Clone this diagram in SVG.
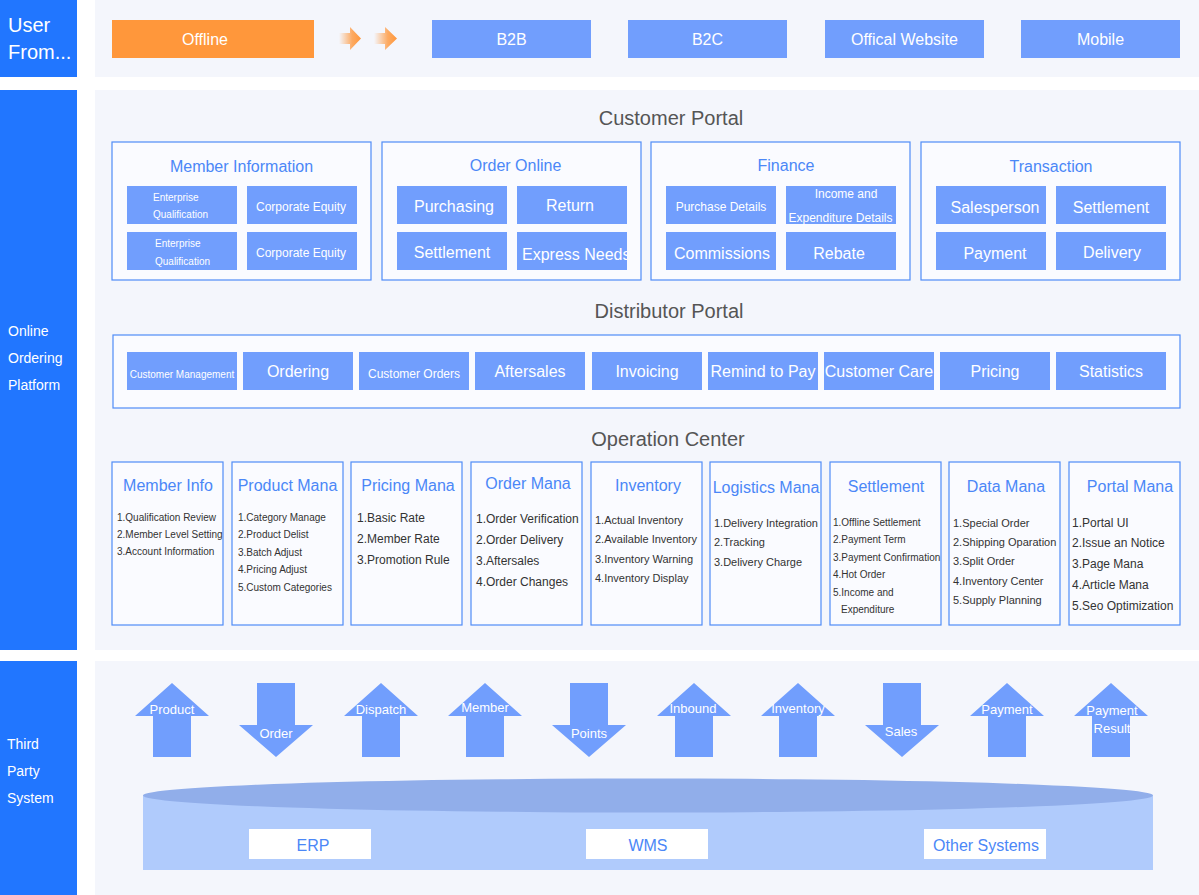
<svg xmlns="http://www.w3.org/2000/svg" xmlns:xlink="http://www.w3.org/1999/xlink" width="1199" height="895" viewBox="0 0 1199 895">
<style>
text{font-family:"Liberation Sans",Arial,sans-serif}
.bar{fill:#2176ff}
.panel{fill:#f4f6fc}
.lbl{fill:#fff;font-size:14px}
.sb{fill:#719efd}
.ob{fill:#fafbff;stroke:#4f8cf7;stroke-width:1.2}
.w16{fill:#fff;font-size:16px;text-anchor:middle}
.w16s{fill:#fff;font-size:16px;text-anchor:start}
.w12{fill:#fff;font-size:12px;text-anchor:middle}
.w10{fill:#fff;font-size:10px}
.sec{fill:#555;font-size:20px;text-anchor:middle}
.bt{fill:#4b87f7;font-size:16px;text-anchor:middle}
.li10{fill:#333;font-size:10px}
.li11{fill:#333;font-size:11px}
.li12{fill:#333;font-size:12px}
.arr{fill:#719efd}
.al{fill:#fff;font-size:13px;text-anchor:middle}
.sys{fill:#fff}
.st{fill:#4b87f7;font-size:16px;text-anchor:middle}
</style>
<defs>
<linearGradient id="chev" x1="0" y1="0" x2="1" y2="0">
<stop offset="0" stop-color="#ff973b" stop-opacity="0"/>
<stop offset="0.6" stop-color="#ff973b" stop-opacity="0.8"/>
<stop offset="1" stop-color="#ff973b"/>
</linearGradient>
<path id="up" d="M0,0 L37,33 L19,33 L19,74 L-19,74 L-19,33 L-37,33 Z"/>
<path id="down" d="M-19,0 L19,0 L19,42 L37,42 L0,74 L-37,42 L-19,42 Z"/>
<clipPath id="clipEN"><rect x="517" y="232" width="110" height="38"/></clipPath>
</defs>

<!-- backgrounds -->
<g id="bands">
<rect class="bar" x="0" y="0" width="77" height="77"/>
<rect class="bar" x="0" y="90" width="77" height="560"/>
<rect class="bar" x="0" y="661" width="77" height="234"/>
<rect class="panel" x="95" y="0" width="1104" height="77"/>
<rect class="panel" x="95" y="90" width="1104" height="560"/>
<rect class="panel" x="95" y="661" width="1104" height="234"/>
<text fill="#fff" font-size="20" x="8" y="32">User</text>
<text fill="#fff" font-size="20" x="8" y="59">From...</text>
<text class="lbl" x="8" y="336">Online</text>
<text class="lbl" x="8" y="363">Ordering</text>
<text class="lbl" x="8" y="390">Platform</text>
<text class="lbl" x="7" y="749">Third</text>
<text class="lbl" x="7" y="776">Party</text>
<text class="lbl" x="7" y="803">System</text>
</g>

<!-- top row -->
<g id="offline"><rect x="112" y="20" width="202" height="38" fill="#ff973b"/><text class="w16" x="205" y="45">Offline</text></g>
<g id="chevrons">
<polygon points="339,33 350,33 350,27 361,38.5 350,50 350,44 339,44" fill="url(#chev)"/>
<polygon points="374,33 385,33 385,27 397,38.5 385,50 385,44 374,44" fill="url(#chev)"/>
</g>
<g id="b2b"><rect class="sb" x="432" y="20" width="159" height="38"/><text class="w16" x="511.5" y="45">B2B</text></g>
<g id="b2c"><rect class="sb" x="628" y="20" width="159" height="38"/><text class="w16" x="707.5" y="45">B2C</text></g>
<g id="website"><rect class="sb" x="825" y="20" width="159" height="38"/><text class="w16" x="904.5" y="45">Offical Website</text></g>
<g id="mobile"><rect class="sb" x="1021" y="20" width="159" height="38"/><text class="w16" x="1100.5" y="45">Mobile</text></g>

<!-- Customer Portal -->
<text class="sec" x="671" y="125">Customer Portal</text>
<g id="member-information">
<rect class="ob" x="112" y="142" width="259" height="138"/>
<text class="bt" x="241.5" y="171.5">Member Information</text>
<rect class="sb" x="127" y="186" width="110" height="38"/>
<text class="w10" x="153" y="200.5">Enterprise</text><text class="w10" x="153" y="217.5">Qualification</text>
<rect class="sb" x="247" y="186" width="110" height="38"/>
<text class="w12" x="301" y="210.5">Corporate Equity</text>
<rect class="sb" x="127" y="232" width="110" height="38"/>
<text class="w10" x="155" y="246.5">Enterprise</text><text class="w10" x="155" y="264.5">Qualification</text>
<rect class="sb" x="247" y="232" width="110" height="38"/>
<text class="w12" x="301" y="257">Corporate Equity</text>
</g>
<g id="order-online">
<rect class="ob" x="382" y="142" width="259" height="138"/>
<text class="bt" x="515.5" y="170.5">Order Online</text>
<rect class="sb" x="397" y="186" width="110" height="38"/><text class="w16" x="454" y="212">Purchasing</text>
<rect class="sb" x="517" y="186" width="110" height="38"/><text class="w16" x="570" y="211">Return</text>
<rect class="sb" x="397" y="232" width="110" height="38"/><text class="w16" x="452" y="257.5">Settlement</text>
<rect class="sb" x="517" y="232" width="110" height="38"/><text class="w16s" x="522" y="259.5" clip-path="url(#clipEN)">Express Needs</text>
</g>
<g id="finance">
<rect class="ob" x="651" y="142" width="259" height="138"/>
<text class="bt" x="786" y="170.5">Finance</text>
<rect class="sb" x="666" y="186" width="110" height="38"/><text class="w12" x="721" y="210.5">Purchase Details</text>
<rect class="sb" x="786" y="186" width="110" height="38"/><text class="w12" x="846" y="198">Income and</text><text class="w12" x="840.5" y="222">Expenditure Details</text>
<rect class="sb" x="666" y="232" width="110" height="38"/><text class="w16" x="722" y="258.5">Commissions</text>
<rect class="sb" x="786" y="232" width="110" height="38"/><text class="w16" x="839" y="259">Rebate</text>
</g>
<g id="transaction">
<rect class="ob" x="921" y="142" width="259" height="138"/>
<text class="bt" x="1051" y="171.5">Transaction</text>
<rect class="sb" x="936" y="186" width="110" height="38"/><text class="w16" x="995" y="213">Salesperson</text>
<rect class="sb" x="1056" y="186" width="110" height="38"/><text class="w16" x="1111" y="212.5">Settlement</text>
<rect class="sb" x="936" y="232" width="110" height="38"/><text class="w16" x="995" y="258.5">Payment</text>
<rect class="sb" x="1056" y="232" width="110" height="38"/><text class="w16" x="1112" y="258">Delivery</text>
</g>

<!-- Distributor Portal -->
<text class="sec" x="669" y="318">Distributor Portal</text>
<g id="distributor-portal">
<rect class="ob" x="113" y="335" width="1067" height="73"/>
<rect class="sb" x="127" y="352" width="110" height="38"/><text class="w10" x="182" y="378" text-anchor="middle">Customer Management</text>
<rect class="sb" x="243" y="352" width="110" height="38"/><text class="w16" x="298" y="377">Ordering</text>
<rect class="sb" x="359" y="352" width="110" height="38"/><text class="w12" x="414" y="377.5">Customer Orders</text>
<rect class="sb" x="475" y="352" width="110" height="38"/><text class="w16" x="530" y="377">Aftersales</text>
<rect class="sb" x="592" y="352" width="110" height="38"/><text class="w16" x="647" y="377">Invoicing</text>
<rect class="sb" x="708" y="352" width="110" height="38"/><text class="w16" x="763" y="377">Remind to Pay</text>
<rect class="sb" x="824" y="352" width="110" height="38"/><text class="w16" x="879" y="377">Customer Care</text>
<rect class="sb" x="940" y="352" width="110" height="38"/><text class="w16" x="995" y="377">Pricing</text>
<rect class="sb" x="1056" y="352" width="110" height="38"/><text class="w16" x="1111" y="377">Statistics</text>
</g>

<!-- Operation Center -->
<text class="sec" x="668" y="446">Operation Center</text>
<g id="op-member-info">
<rect class="ob" x="112" y="462" width="111" height="163"/>
<text class="bt" x="168" y="490.5">Member Info</text>
<text class="li10" x="117" y="520.5">1.Qualification Review</text>
<text class="li10" x="117" y="537.5">2.Member Level Setting</text>
<text class="li10" x="117" y="554.5">3.Account Information</text>
</g>
<g id="op-product-mana">
<rect class="ob" x="232" y="462" width="111" height="163"/>
<text class="bt" x="287.5" y="490.5">Product Mana</text>
<text class="li10" x="238" y="520.5">1.Category Manage</text>
<text class="li10" x="238" y="538">2.Product Delist</text>
<text class="li10" x="238" y="555.5">3.Batch Adjust</text>
<text class="li10" x="238" y="573">4.Pricing Adjust</text>
<text class="li10" x="238" y="590.5">5.Custom Categories</text>
</g>
<g id="op-pricing-mana">
<rect class="ob" x="351" y="462" width="111" height="163"/>
<text class="bt" x="408" y="490.5">Pricing Mana</text>
<text class="li12" x="357" y="521.5">1.Basic Rate</text>
<text class="li12" x="357" y="542.5">2.Member Rate</text>
<text class="li12" x="357" y="563.5">3.Promotion Rule</text>
</g>
<g id="op-order-mana">
<rect class="ob" x="471" y="462" width="111" height="163"/>
<text class="bt" x="528" y="489">Order Mana</text>
<text class="li12" x="476" y="522.5">1.Order Verification</text>
<text class="li12" x="476" y="543.5">2.Order Delivery</text>
<text class="li12" x="476" y="564.5">3.Aftersales</text>
<text class="li12" x="476" y="585.5">4.Order Changes</text>
</g>
<g id="op-inventory">
<rect class="ob" x="591" y="462" width="111" height="163"/>
<text class="bt" x="648" y="490.5">Inventory</text>
<text class="li11" x="595" y="524">1.Actual Inventory</text>
<text class="li11" x="595" y="543.3">2.Available Inventory</text>
<text class="li11" x="595" y="562.6">3.Inventory Warning</text>
<text class="li11" x="595" y="582">4.Inventory Display</text>
</g>
<g id="op-logistics-mana">
<rect class="ob" x="710" y="462" width="111" height="163"/>
<text class="bt" x="766" y="492.5">Logistics Mana</text>
<text class="li11" x="714" y="527">1.Delivery Integration</text>
<text class="li11" x="714" y="546">2.Tracking</text>
<text class="li11" x="714" y="566">3.Delivery Charge</text>
</g>
<g id="op-settlement">
<rect class="ob" x="830" y="462" width="111" height="163"/>
<text class="bt" x="886" y="492">Settlement</text>
<text class="li10" x="833" y="525.5">1.Offline Settlement</text>
<text class="li10" x="833" y="543">2.Payment Term</text>
<text class="li10" x="833" y="560.5">3.Payment Confirmation</text>
<text class="li10" x="833" y="578">4.Hot Order</text>
<text class="li10" x="833" y="595.5">5.Income and</text>
<text class="li10" x="841" y="613">Expenditure</text>
</g>
<g id="op-data-mana">
<rect class="ob" x="949" y="462" width="111" height="163"/>
<text class="bt" x="1006" y="491.5">Data Mana</text>
<text class="li11" x="953" y="527">1.Special Order</text>
<text class="li11" x="953" y="546">2.Shipping Oparation</text>
<text class="li11" x="953" y="565">3.Split Order</text>
<text class="li11" x="953" y="585">4.Inventory Center</text>
<text class="li11" x="953" y="604">5.Supply Planning</text>
</g>
<g id="op-portal-mana">
<rect class="ob" x="1069" y="462" width="111" height="163"/>
<text class="bt" x="1130" y="491.5">Portal Mana</text>
<text class="li12" x="1072" y="526.5">1.Portal UI</text>
<text class="li12" x="1072" y="547">2.Issue an Notice</text>
<text class="li12" x="1072" y="567.5">3.Page Mana</text>
<text class="li12" x="1072" y="588.5">4.Article Mana</text>
<text class="li12" x="1072" y="609.5">5.Seo Optimization</text>
</g>

<!-- connectors: data flow arrows -->
<g id="connectors">
<g id="a-product"><use xlink:href="#up" class="arr" x="172" y="683"/><text class="al" x="172" y="714">Product</text></g>
<g id="a-order"><use xlink:href="#down" class="arr" x="276" y="683"/><text class="al" x="276" y="738">Order</text></g>
<g id="a-dispatch"><use xlink:href="#up" class="arr" x="381" y="683"/><text class="al" x="381" y="714">Dispatch</text></g>
<g id="a-member"><use xlink:href="#up" class="arr" x="485" y="683"/><text class="al" x="485" y="712">Member</text></g>
<g id="a-points"><use xlink:href="#down" class="arr" x="589" y="683"/><text class="al" x="589" y="738">Points</text></g>
<g id="a-inbound"><use xlink:href="#up" class="arr" x="694" y="683"/><text class="al" x="693" y="713">Inbound</text></g>
<g id="a-inventory"><use xlink:href="#up" class="arr" x="798" y="683"/><text class="al" x="798" y="713">Inventory</text></g>
<g id="a-sales"><use xlink:href="#down" class="arr" x="902" y="683"/><text class="al" x="901" y="736">Sales</text></g>
<g id="a-payment"><use xlink:href="#up" class="arr" x="1007" y="683"/><text class="al" x="1007" y="714">Payment</text></g>
<g id="a-payment-result"><use xlink:href="#up" class="arr" x="1111" y="683"/><text class="al" x="1112" y="715">Payment</text><text class="al" x="1112" y="732.5">Result</text></g>
</g>

<!-- Third party cylinder -->
<g id="third-party-systems">
<rect x="143" y="795" width="1010" height="75" fill="#b0cbfc"/>
<ellipse cx="648" cy="795.5" rx="505" ry="17" fill="#91aeea"/>
<g id="erp"><rect class="sys" x="249" y="829" width="122" height="30"/><text class="st" x="313" y="851">ERP</text></g>
<g id="wms"><rect class="sys" x="586" y="829" width="122" height="30"/><text class="st" x="648" y="851">WMS</text></g>
<g id="other-systems"><rect class="sys" x="924" y="829" width="122" height="30"/><text class="st" x="986" y="851">Other Systems</text></g>
</g>
</svg>
